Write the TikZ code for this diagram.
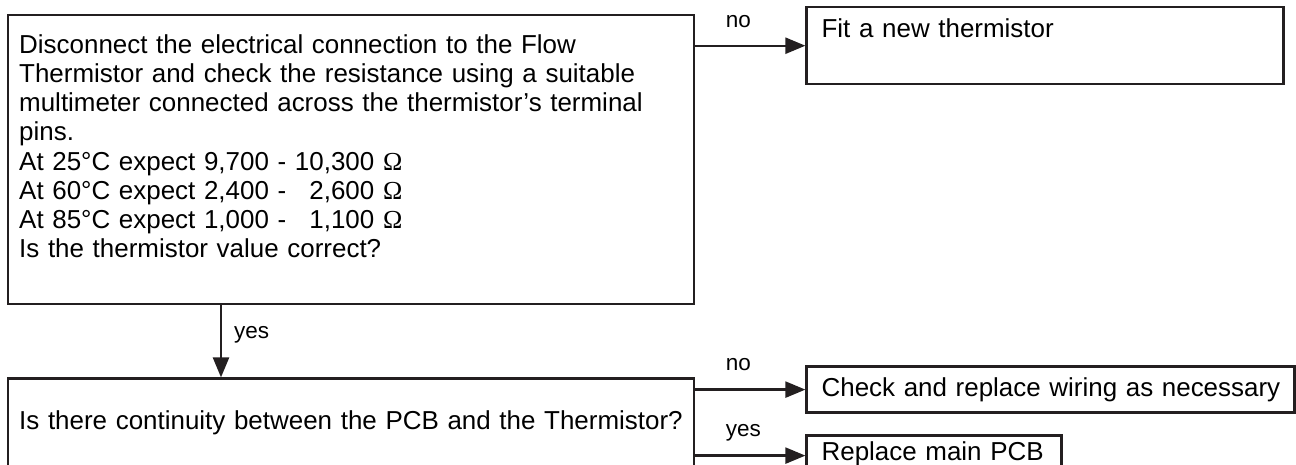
\documentclass[tikz,border=0pt]{standalone}
\usepackage{fontspec}
\setmainfont{Liberation Sans}
\newfontfamily\omfont{Liberation Serif}
\usetikzlibrary{arrows.meta,positioning}
\definecolor{LineDark}{HTML}{231F20}
\newcommand{\ohm}{{\omfont Ω}}
\tikzset{
  QB/.style={rectangle,draw=LineDark,line width=2.4pt,
             inner xsep=11pt,inner ysep=0pt,align=left,anchor=north west,
             font=\fontsize{25.95}{29.2}\selectfont},
  AB/.style={QB,inner xsep=15pt},
  arr/.style={-{Triangle[length=20pt,width=16pt]},line width=2.4pt,draw=LineDark},
  lbl/.style={inner sep=0pt,anchor=base west,font=\fontsize{22.5}{24}\selectfont}
}

\begin{document}
\begin{tikzpicture}[x=1pt,y=1pt]
  \useasboundingbox (0,0) rectangle (1296,-464);
  % questions
  \node[QB,text width=664pt,text height=38pt,text depth=251pt] (q1) at (7,-14)
    {Disconnect the electrical connection to the Flow\\
     Thermistor and check the resistance using a suitable\\
     multimeter connected across the thermistor’s terminal\\
     pins.\\
     At 25°C expect 9,700 - 10,300 \ohm\\
     At 60°C expect 2,400 - \hphantom{1}2,600 \ohm\\
     At 85°C expect 1,000 - \hphantom{1}1,100 \ohm\\
     Is the thermistor value correct?};
  \node[QB,text width=664pt,minimum height=88pt,below=72pt of q1.south west,anchor=north west] (q2)
    {\mbox{Is there continuity between the PCB and the Thermistor?}};
  % actions
  \node[AB,text width=447pt,text height=30.5pt,text depth=46.5pt] (fit)
    at ([xshift=110pt,yshift=8pt]q1.north east) {Fit a new thermistor};
  \node[AB,text width=458pt,minimum height=46pt] (wire)
    at ([xshift=110pt,yshift=12pt]q2.north east) {\mbox{Check and replace wiring as necessary}};
  \node[AB,text width=225pt,text height=25pt,text depth=15pt] (pcb)
    at ([xshift=110pt,yshift=-57pt]q2.north east) {\mbox{Replace main PCB}};
  \draw[arr] (q1.east |- fit.west) -- node[lbl,pos=0.265,yshift=18pt]{no} (fit.west);
  \draw[arr] ([xshift=214pt]q1.south west) -- node[lbl,pos=0.46,xshift=12pt]{yes}
    ([xshift=214pt]q2.north west);
  \draw[arr] (q2.east |- wire.west) -- node[lbl,pos=0.265,yshift=19pt]{no} (wire.west);
  \draw[arr] (q2.east |- pcb.west) -- node[lbl,pos=0.265,yshift=19pt]{yes} (pcb.west);
\end{tikzpicture}
\end{document}
